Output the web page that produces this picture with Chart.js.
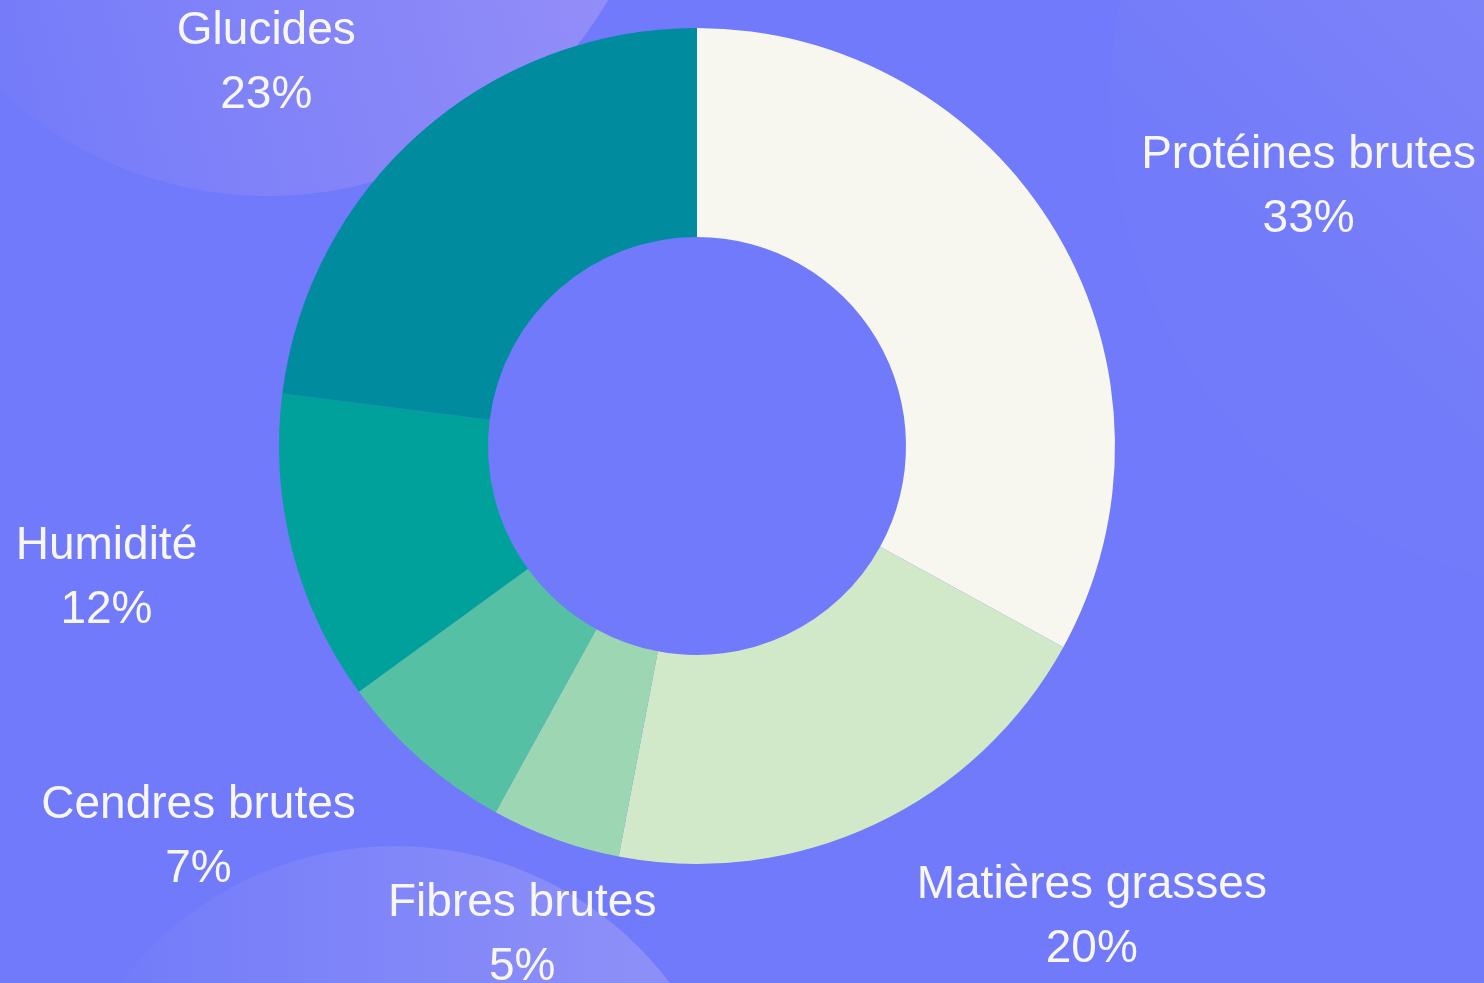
<!DOCTYPE html>
<html lang="fr">
<head>
<meta charset="utf-8">
<title>Composition</title>
<script src="https://cdn.jsdelivr.net/npm/chart.js@4.4.1/dist/chart.umd.min.js"></script>
<style>
    html, body {
        margin: 0;
        padding: 0;
        width: 1484px;
        height: 983px;
        overflow: hidden;
        background: #707afa;
    }
    .bubble {
        position: absolute;
        border-radius: 50%;
    }
    #bubbleTop {
        left: -125px;
        top: -590px;
        width: 786px;
        height: 786px;
        background: linear-gradient(75deg, #727af9 10%, #9890f8 90%);
    }
    #bubbleRight {
        left: 1110px;
        top: -390px;
        width: 980px;
        height: 980px;
        background: linear-gradient(225deg, #8a8cf8 20%, #727bf9 75%);
    }
    #bubbleBottom {
        left: 51px;
        top: 846px;
        width: 688px;
        height: 688px;
        background: linear-gradient(90deg, #737cf9 10%, #8d8ff8 85%);
    }
    .chartBox {
        position: absolute;
        left: 0;
        top: 0;
        width: 1484px;
        height: 983px;
    }
</style>
</head>
<body>
<div class="bubble" id="bubbleTop"></div>
<div class="bubble" id="bubbleRight"></div>
<div class="bubble" id="bubbleBottom"></div>
<div class="chartBox">
    <canvas id="compositionChart"></canvas>
</div>

<script>
const categories = ['Protéines brutes', 'Matières grasses', 'Fibres brutes', 'Cendres brutes', 'Humidité', 'Glucides'];
const shares = [33, 20, 5, 7, 12, 23];
const sliceColors = ['#f7f7ef', '#d1e9c8', '#9dd6b3', '#55c0a3', '#00a19a', '#018b9e'];

const labelFont = '46px "Liberation Sans", Arial, sans-serif';
const labelColor = '#f7f7ef';

// draws "name / xx%" outside each slice
const outsideLabels = {
    id: 'outsideLabels',
    afterDatasetsDraw(chart) {
        const ctx = chart.ctx;
        const meta = chart.getDatasetMeta(0);
        const values = chart.data.datasets[0].data;
        const total = values.reduce((a, b) => a + b, 0);

        ctx.save();
        ctx.font = labelFont;
        ctx.fillStyle = labelColor;
        ctx.textAlign = 'center';
        ctx.textBaseline = 'alphabetic';

        meta.data.forEach(function(arc, i) {
            const p = arc.getProps(['x', 'y', 'startAngle', 'endAngle', 'outerRadius'], true);
            const mid = (p.startAngle + p.endAngle) / 2;
            const r = p.outerRadius + 98;
            const ax = p.x + Math.cos(mid) * r;
            const ay = p.y + Math.sin(mid) * r;

            const lines = [chart.data.labels[i], Math.round(values[i] / total * 100) + '%'];
            const w = Math.max.apply(null, lines.map(t => ctx.measureText(t).width));

            // near the bottom/top the block is centred, otherwise it grows outwards
            let bx = ax;
            if (Math.cos(mid) > 0.38) {
                bx = ax + w / 2;
            } else if (Math.cos(mid) < -0.38) {
                bx = ax - w / 2;
            }

            ctx.fillText(lines[0], bx, ay - 15);
            ctx.fillText(lines[1], bx, ay + 49);
        });
        ctx.restore();
    }
};

document.addEventListener('DOMContentLoaded', function() {
    const ctx = document.getElementById('compositionChart').getContext('2d');

    new Chart(ctx, {
        type: 'doughnut',
        data: {
            labels: categories,
            datasets: [{
                data: shares,
                backgroundColor: sliceColors,
                borderWidth: 0,
                hoverOffset: 0,
                offset: 0
            }]
        },
        options: {
            responsive: true,
            maintainAspectRatio: false,
            animation: false,
            cutout: '50%',
            layout: {
                padding: { top: 28, bottom: 119, left: 100, right: 190 }
            },
            plugins: {
                legend: { display: false },
                tooltip: { enabled: false }
            }
        },
        plugins: [outsideLabels]
    });
});
</script>
</body>
</html>
